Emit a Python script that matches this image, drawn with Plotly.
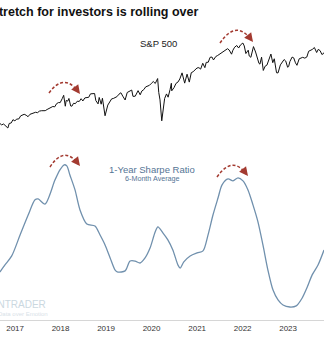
import plotly.graph_objects as go

# ---------------- data ----------------
spx_dates = [
 "2016-09-01","2016-09-15","2016-10-01","2016-10-15","2016-11-01","2016-11-04","2016-11-15","2016-12-01","2016-12-15","2016-12-30",
 "2017-01-15","2017-01-31","2017-02-15","2017-02-28","2017-03-15","2017-03-31","2017-04-15","2017-04-30","2017-05-15","2017-05-31",
 "2017-06-15","2017-06-30","2017-07-15","2017-07-31","2017-08-15","2017-08-31","2017-09-15","2017-09-30","2017-10-15","2017-10-31",
 "2017-11-15","2017-11-30","2017-12-15","2017-12-29",
 "2018-01-15","2018-01-26","2018-02-08","2018-02-15","2018-02-28","2018-03-09","2018-03-23","2018-04-02","2018-04-15","2018-04-30",
 "2018-05-15","2018-05-31","2018-06-15","2018-06-29","2018-07-15","2018-07-31","2018-08-15","2018-08-29","2018-09-20","2018-10-01",
 "2018-10-11","2018-10-29","2018-11-07","2018-11-23","2018-12-03","2018-12-14","2018-12-24",
 "2019-01-15","2019-01-31","2019-02-15","2019-02-28","2019-03-15","2019-03-29","2019-04-15","2019-04-30","2019-05-15","2019-06-03",
 "2019-06-20","2019-07-15","2019-07-26","2019-08-05","2019-08-23","2019-09-15","2019-10-02","2019-10-15","2019-10-31","2019-11-15",
 "2019-11-30","2019-12-15","2019-12-31",
 "2020-01-15","2020-01-31","2020-02-19","2020-02-28","2020-03-09","2020-03-23","2020-04-01","2020-04-15","2020-04-30","2020-05-13",
 "2020-05-29","2020-06-08","2020-06-11","2020-06-30","2020-07-15","2020-07-31","2020-08-15","2020-09-02","2020-09-23","2020-10-12",
 "2020-10-30","2020-11-15","2020-11-30","2020-12-15","2020-12-31",
 "2021-01-15","2021-01-29","2021-02-15","2021-03-04","2021-03-15","2021-03-31","2021-04-15","2021-04-30","2021-05-12","2021-05-31",
 "2021-06-15","2021-06-30","2021-07-15","2021-07-30","2021-08-15","2021-08-31","2021-09-02","2021-09-15","2021-10-04","2021-10-15",
 "2021-10-29","2021-11-15","2021-11-30","2021-12-15","2021-12-31",
 "2022-01-03","2022-01-14","2022-01-27","2022-02-15","2022-02-23","2022-03-08","2022-03-29","2022-04-15","2022-04-29","2022-05-12",
 "2022-05-20","2022-06-02","2022-06-16","2022-07-01","2022-07-15","2022-08-16","2022-08-31","2022-09-12","2022-09-30","2022-10-12",
 "2022-10-31","2022-11-15","2022-11-30","2022-12-13","2022-12-28",
 "2023-01-05","2023-01-15","2023-02-02","2023-02-15","2023-03-01","2023-03-13","2023-03-31","2023-04-15","2023-04-28","2023-05-15",
 "2023-05-31","2023-06-15","2023-06-30","2023-07-14","2023-07-31","2023-08-15","2023-08-18","2023-08-31","2023-09-15","2023-09-29",
 "2023-10-13","2023-10-16",
]
spx_values = [
 2180,2150,2168,2133,2111,2085,2180,2191,2262,2238,
 2275,2279,2349,2364,2385,2363,2329,2384,2402,2412,
 2433,2423,2459,2470,2464,2471,2500,2519,2553,2575,
 2565,2647,2675,2674,
 2786,2873,2581,2732,2714,2786,2588,2582,2656,2648,
 2711,2705,2779,2718,2801,2816,2818,2914,2931,2924,
 2728,2641,2813,2633,2790,2600,2351,
 2610,2704,2775,2784,2822,2834,2905,2946,2850,2744,
 2954,3014,3025,2844,2847,3007,2887,2995,3038,3120,
 3141,3168,3231,
 3289,3226,3386,2954,2747,2237,2470,2783,2912,2820,
 3044,3232,3002,3100,3227,3271,3372,3580,3237,3534,
 3270,3585,3622,3694,3756,
 3768,3714,3934,3768,3968,3973,4170,4181,4063,4204,
 4246,4297,4360,4395,4468,4523,4537,4480,4300,4471,
 4605,4682,4567,4709,4766,
 4796,4662,4326,4471,4225,4170,4631,4392,4131,3930,
 3901,4176,3666,3825,3863,4305,3955,4110,3585,3577,
 3872,3991,4080,4019,3783,
 3808,3999,4179,4147,3951,3855,4109,4137,4169,4136,
 4180,4425,4450,4505,4589,4437,4370,4508,4450,4288,
 4327,4373,
]

sharpe_dates = [
 "2016-09-01","2016-10-12","2016-12-05","2017-02-10","2017-04-16","2017-06-10","2017-07-05","2017-08-29","2017-11-17","2017-12-27",
 "2018-01-30","2018-02-20","2018-03-17","2018-04-27","2018-06-06","2018-07-31","2018-10-04","2018-11-14","2018-12-24",
 "2019-02-03","2019-03-15","2019-04-06","2019-06-03","2019-07-13","2019-08-22","2019-10-01","2019-11-10","2019-12-20",
 "2020-01-30","2020-02-21","2020-04-01","2020-05-11","2020-06-20","2020-07-31","2020-08-18","2020-09-16","2020-11-06",
 "2021-01-01","2021-02-17","2021-03-29","2021-05-08","2021-06-18","2021-07-20","2021-09-06","2021-10-16","2021-11-25",
 "2022-01-04","2022-02-13","2022-03-25","2022-05-04","2022-06-13","2022-07-23","2022-09-02","2022-10-12","2022-11-21",
 "2023-01-15","2023-03-07","2023-04-24","2023-06-03","2023-07-13","2023-08-29","2023-10-16",
]
sharpe_values = [
 0.04,0.29,0.61,1.35,2.06,2.60,2.63,2.45,3.30,3.66,
 3.84,3.80,3.48,2.95,2.24,1.74,1.67,1.35,1.00,
 0.54,0.11,0.04,0.08,0.43,0.43,0.36,0.54,0.89,
 1.46,1.64,1.43,1.18,0.82,0.29,0.18,0.40,0.61,
 0.72,0.79,1.35,2.06,2.67,3.13,3.34,3.27,3.38,
 3.27,2.95,2.42,1.82,1.00,0.11,-0.60,-0.95,-1.13,
 -1.20,-1.16,-0.88,-0.50,-0.06,0.29,0.82,
]

year_ticks = ["2017-01-01","2018-01-01","2019-01-01","2020-01-01","2021-01-01","2022-01-01","2023-01-01"]
year_labels = ["2017","2018","2019","2020","2021","2022","2023"]

title_text = "stretch for investors is rolling over"
spx_label = "S&P 500"
sharpe_label = "1-Year Sharpe Ratio"
sharpe_sub = "6-Month Average"

# ---------------- figure ----------------
W, H = 324, 350
PH = 320  # plot height (bottom margin 30)

def px(x):
    return x / W

def py(y):
    return (PH - y) / PH

FONT = "Liberation Sans, Arial, sans-serif"
RED = "#a33a30"
BLUE = "#7090ad"

fig = go.Figure()
fig.add_trace(go.Scatter(x=spx_dates, y=spx_values, mode="lines",
                         line=dict(color="#111111", width=1), yaxis="y", hoverinfo="skip"))
fig.add_trace(go.Scatter(x=sharpe_dates, y=sharpe_values, mode="lines",
                         line=dict(color=BLUE, width=1.3, shape="spline", smoothing=0.8),
                         yaxis="y2", hoverinfo="skip"))

annotations = [
    dict(x=-10 / W, y=py(12), xref="paper", yref="paper", xanchor="left", yanchor="middle",
         text="<b>" + title_text + "</b>", showarrow=False,
         font=dict(family=FONT, size=12.5, color="#111111")),
    dict(x=px(158), y=py(43), xref="paper", yref="paper", xanchor="center", yanchor="middle",
         text=spx_label, showarrow=False, font=dict(family=FONT, size=9.5, color="#222222")),
    dict(x=px(152), y=py(169), xref="paper", yref="paper", xanchor="center", yanchor="middle",
         text=sharpe_label, showarrow=False, font=dict(family=FONT, size=9.5, color="#557595")),
    dict(x=px(152), y=py(178.5), xref="paper", yref="paper", xanchor="center", yanchor="middle",
         text=sharpe_sub, showarrow=False, font=dict(family=FONT, size=7.2, color="#557595")),
    dict(x=px(48), y=py(304), xref="paper", yref="paper", xanchor="right", yanchor="middle",
         text="SENTIMENTRADER", showarrow=False, font=dict(family=FONT, size=10, color="#cbd8df")),
    dict(x=px(50), y=py(314), xref="paper", yref="paper", xanchor="right", yanchor="middle",
         text="Data over Emotion", showarrow=False, font=dict(family=FONT, size=6, color="#d8e2e8")),
]

shapes = []
arrows = [
    ((49, 93), (64, 72.5), (80, 94)),
    ((220, 43), (236, 19.5), (253, 42)),
    ((50, 167), (64, 145.5), (80, 166)),
    ((217, 177), (232, 155.5), (248, 176)),
]
for (s, c, e) in arrows:
    path = "M %f %f Q %f %f %f %f" % (px(s[0]), py(s[1]), px(c[0]), py(c[1]), px(e[0] - 2), py(e[1] - 2.5))
    shapes.append(dict(type="path", path=path, xref="paper", yref="paper",
                       line=dict(color=RED, width=1.5, dash="3px,2px")))
    dx, dy = e[0] - c[0], e[1] - c[1]
    n = (dx * dx + dy * dy) ** 0.5
    annotations.append(dict(x=px(e[0]), y=py(e[1]), xref="paper", yref="paper", text="",
                            showarrow=True, arrowhead=2, arrowsize=1.1, arrowwidth=1.6,
                            arrowcolor=RED, ax=-dx / n * 6, ay=-dy / n * 6, standoff=0))

fig.update_layout(
    width=W, height=H,
    margin=dict(l=0, r=0, t=0, b=H - PH),
    paper_bgcolor="white", plot_bgcolor="white",
    showlegend=False,
    xaxis=dict(type="date", range=["2016-09-02", "2023-10-16"], anchor="y2",
               tickvals=year_ticks, ticktext=year_labels, showgrid=False, zeroline=False,
               showline=True, linecolor="#d6d6d6", linewidth=1, ticks="",
               tickfont=dict(family=FONT, size=8, color="#333333")),
    yaxis=dict(type="log", domain=[py(140), py(20)], range=[3.268, 3.779],
               visible=False, showgrid=False),
    yaxis2=dict(domain=[0, 0.5], range=[-1.66, 4.01], visible=False, showgrid=False),
    annotations=annotations,
    shapes=shapes,
)

fig.write_html("out.html")
